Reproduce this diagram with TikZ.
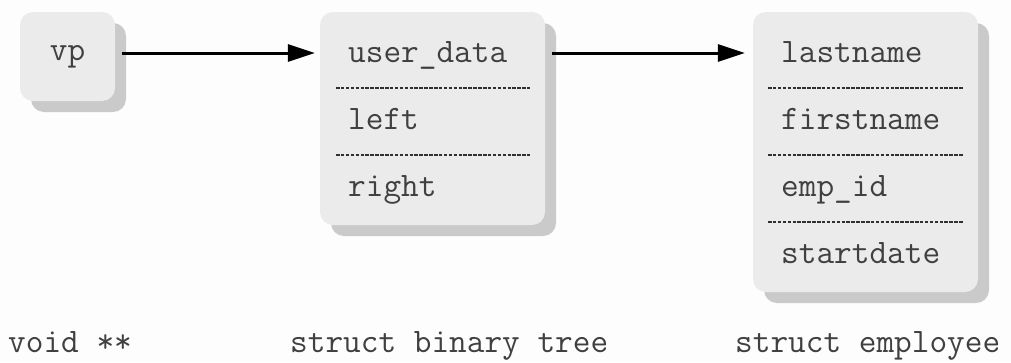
\documentclass[tikz,border=0pt]{standalone}
\usepackage{fontspec}
\usetikzlibrary{arrows.meta,calc}
\definecolor{panel}{HTML}{EBEBEB}
\definecolor{panelshadow}{HTML}{CACACA}
\definecolor{ink}{HTML}{404040}
\definecolor{rule}{HTML}{303030}
\definecolor{paper}{HTML}{FDFDFD}
\begin{document}
\begin{tikzpicture}[x=1pt,y=-1pt,
  card/.style={fill=panel, rounded corners=13pt, inner sep=0pt,
    preaction={fill=panelshadow, transform canvas={shift={(11pt,-11pt)}}}},
  mono/.style={font=\ttfamily\fontsize{34.3}{34.3}\selectfont, text=ink},
  field/.style={mono, anchor=base west, inner sep=0pt},
  sep/.style={draw=rule, line width=1.2pt, dash pattern=on 3.5pt off 1.4pt},
  link/.style={line width=3pt, -{Triangle[length=27pt,width=17pt]}},
]
\fill[paper] (0,0) rectangle (1011,362);
\useasboundingbox (0,0) rectangle (1011,362);

% pointer, tree node and employee record
\node[card, mono, minimum width=95pt, minimum height=89pt] (vp) at (67.5,56.5) {vp};
\node[card, minimum width=225pt, minimum height=213pt] (bt) at (432.5,118.5) {};
\node[card, minimum width=225pt, minimum height=280pt] (emp) at (865.5,152) {};

% fields of struct binary tree
\node[field] (bt1) at (348,62) {user\_data};
\node[field] (bt2) at (348,129) {left};
\node[field] (bt3) at (348,196) {right};
\draw[sep] (336,88) -- (530,88);
\draw[sep] (336,155) -- (530,155);

% fields of struct employee
\node[field] (emp1) at (781,62) {lastname};
\node[field] (emp2) at (781,129) {firstname};
\node[field] (emp3) at (781,196) {emp\_id};
\node[field] (emp4) at (781,263) {startdate};
\draw[sep] (768,88) -- (963,88);
\draw[sep] (768,155) -- (963,155);
\draw[sep] (768,222) -- (963,222);

% pointer links
\coordinate (lvl) at (0,53);
\draw[link, shorten <=7pt, shorten >=5pt] (vp.east |- lvl) -- (bt.west |- lvl);
\draw[link, shorten <=7pt, shorten >=8pt] (bt.east |- lvl) -- (emp.west |- lvl);

% type captions
\node[field] (tvp) at (8,352) {void **};
\node[field] (tbt) at (290,352) {struct binary tree};
\node[field] (temp) at (735,352) {struct employee};
\end{tikzpicture}
\end{document}
